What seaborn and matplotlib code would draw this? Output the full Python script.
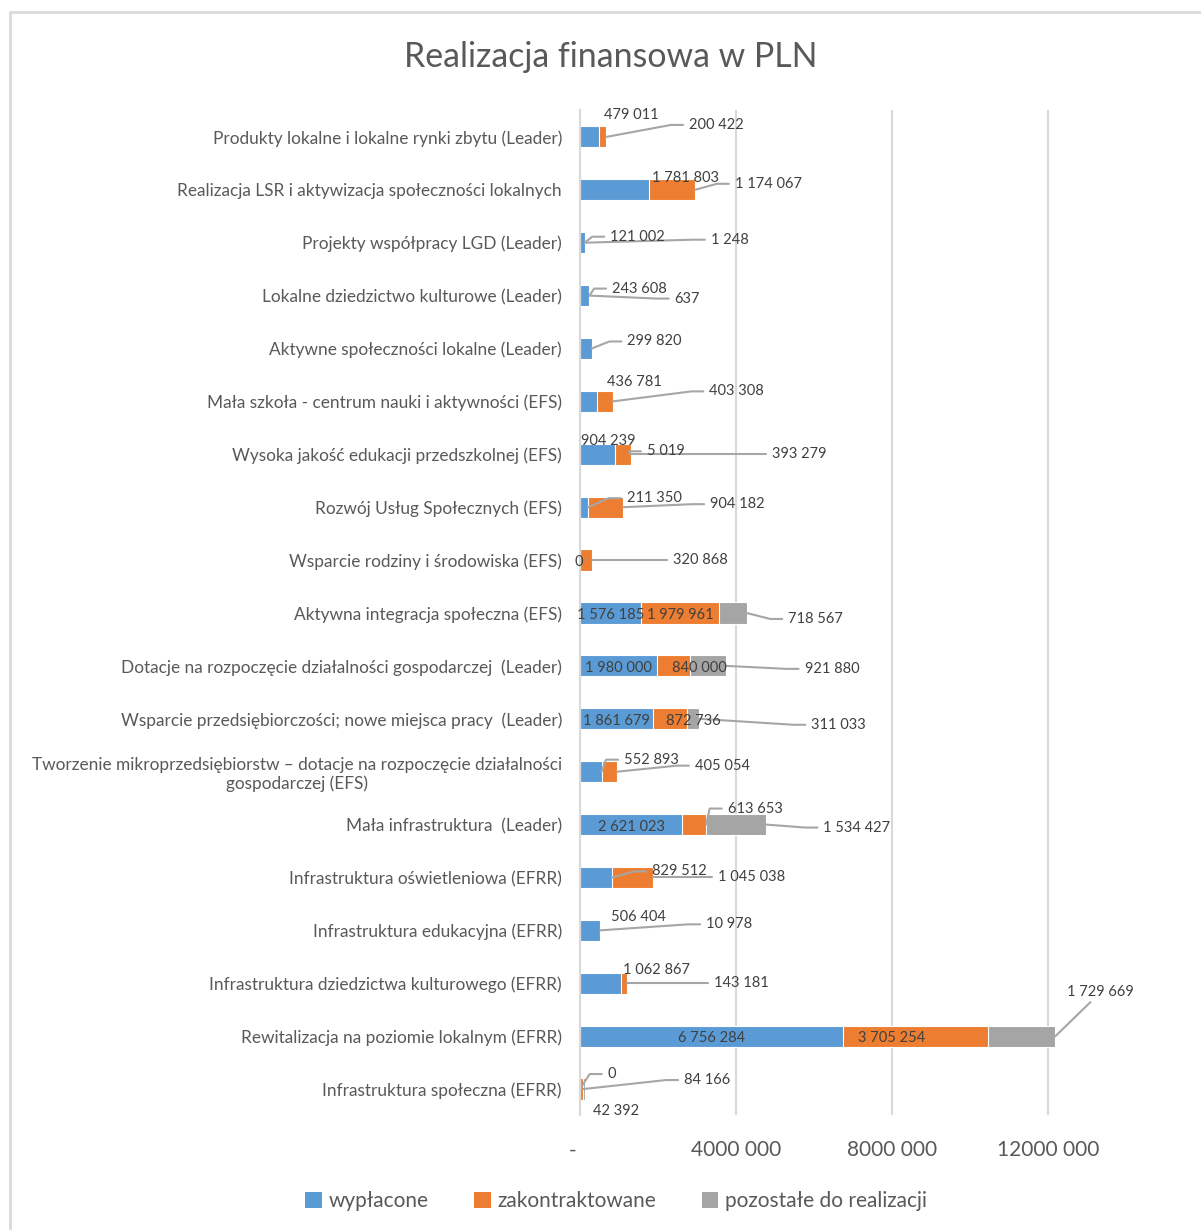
import numpy as np
import pandas as pd
import matplotlib
matplotlib.use("Agg")
import matplotlib.pyplot as plt
import matplotlib.transforms as mtransforms
from matplotlib.patches import Patch, Rectangle
import seaborn as sns

# --- data (PLN) ---
categories = [
    "Produkty lokalne i lokalne rynki zbytu (Leader)",
    "Realizacja LSR i aktywizacja społeczności lokalnych",
    "Projekty współpracy LGD (Leader)",
    "Lokalne dziedzictwo kulturowe (Leader)",
    "Aktywne społeczności lokalne (Leader)",
    "Mała szkoła - centrum nauki i aktywności (EFS)",
    "Wysoka jakość edukacji przedszkolnej (EFS)",
    "Rozwój Usług Społecznych (EFS)",
    "Wsparcie rodziny i środowiska (EFS)",
    "Aktywna integracja społeczna (EFS)",
    "Dotacje na rozpoczęcie działalności gospodarczej  (Leader)",
    "Wsparcie przedsiębiorczości; nowe miejsca pracy  (Leader)",
    "Tworzenie mikroprzedsiębiorstw – dotacje na rozpoczęcie działalności\ngospodarczej (EFS)",
    "Mała infrastruktura  (Leader)",
    "Infrastruktura oświetleniowa (EFRR)",
    "Infrastruktura edukacyjna (EFRR)",
    "Infrastruktura dziedzictwa kulturowego (EFRR)",
    "Rewitalizacja na poziomie lokalnym (EFRR)",
    "Infrastruktura społeczna (EFRR)",
]
wyplacone = [479011, 1781803, 121002, 243608, 299820, 436781, 904239, 211350, 0,
             1576185, 1980000, 1861679, 552893, 2621023, 829512, 506404, 1062867,
             6756284, 0]
zakontraktowane = [200422, 1174067, 1248, 637, np.nan, 403308, 393279, 904182, 320868,
                   1979961, 840000, 872736, 405054, 613653, 1045038, 10978, 143181,
                   3705254, 84166]
pozostale = [np.nan, np.nan, np.nan, np.nan, np.nan, np.nan, 5019, np.nan, np.nan,
             718567, 921880, 311033, np.nan, 1534427, np.nan, np.nan, np.nan,
             1729669, 42392]
series_names = ["wypłacone", "zakontraktowane", "pozostałe do realizacji"]
xtick_vals = [0, 4000000, 8000000, 12000000]
xtick_labels = ["-", "4000 000", "8000 000", "12000 000"]

# label placement like the Excel callouts: "in" = centred in segment,
# (dx, dy) = pixel offset of label centre from the segment end
label_pos = [
    [(33, 24), (110, 14), None],
    [(36, 14), (73, 8), None],
    [(53, 8), (145, 5), None],
    [(50, 9), (98, -1), None],
    [(63, 9), None, None],
    [(37, 21), (124, 12), None],
    [(-7, 15), (169, 2), (35, 5)],
    [(66, 11), (114, 5), None],
    [(-1, 0), (108, 2), None],
    ["in", "in", (69, -4)],
    ["in", (9, 0), (106, -1)],
    ["in", (7, 0), (140, -4)],
    [(50, 14), (105, 8), None],
    ["in", (49, 18), (91, -1)],
    [(67, 8), (98, 2), None],
    [(39, 15), (129, 8), None],
    [(35, 15), (114, 2), None],
    ["in", (-96, 0), (45, 46)],
    [(32, 17), (124, 11), (31, -20)],
]

colors = ["#5B9BD5", "#ED7D31", "#A5A5A5"]
text_col = "#595959"
lbl_col = "#404040"
grid_col = "#D9D9D9"

df = pd.DataFrame({"kategoria": categories,
                   "w": wyplacone, "z": zakontraktowane, "p": pozostale})
vals = df[["w", "z", "p"]].fillna(0).to_numpy()
cum = vals.cumsum(axis=1)

sns.set_theme(style="white")
plt.rcParams["font.family"] = ["Lato", "DejaVu Sans"]

fig = plt.figure(figsize=(12.01, 12.30), dpi=100)
ax = fig.add_axes([0.4829, 0.0931, 0.4384, 0.8171])

# stacked bars: draw cumulative totals from the largest down
for j in [2, 1, 0]:
    sns.barplot(x=cum[:, j], y=df["kategoria"], orient="h", color=colors[j],
                saturation=1, width=0.4, errorbar=None, ax=ax,
                edgecolor="white", linewidth=0.8)

ax.set_xlim(0, 13500000)
ax.set_ylim(len(categories) - 0.5, -0.5)
ax.set_xticks(xtick_vals)
ax.set_xticklabels(xtick_labels, fontsize=15, color=text_col)
ax.tick_params(axis="x", length=0, pad=18)
ax.tick_params(axis="y", length=0, pad=13, labelsize=12.4, labelcolor=text_col)
# the "-" for zero sits a little left of the axis, as in Excel
zero_lbl = ax.get_xticklabels()[0]
zero_lbl.set_transform(zero_lbl.get_transform() +
                       mtransforms.ScaledTranslation(-7 / 100, 0, fig.dpi_scale_trans))
for t in ax.get_yticklabels():
    t.set_multialignment("center")
ax.set_xlabel("")
ax.set_ylabel("")
ax.xaxis.grid(True, color=grid_col, lw=1.5)
ax.set_axisbelow(True)
for s in ["top", "right", "bottom"]:
    ax.spines[s].set_visible(False)
ax.spines["left"].set_color(grid_col)
ax.spines["left"].set_linewidth(1.5)

# data labels
callouts = []
raw = df[["w", "z", "p"]].to_numpy()
for i in range(len(categories)):
    for j in range(3):
        v = raw[i, j]
        pos = label_pos[i][j]
        if pos is None or np.isnan(v):
            continue
        txt = f"{v:,.0f}".replace(",", " ")
        end = cum[i, j]
        if pos == "in":
            ax.annotate(txt, xy=(end - v / 2, i), xytext=(0, -2),
                        textcoords="offset pixels", ha="center", va="center",
                        fontsize=10.5, color=lbl_col)
        else:
            ann = ax.annotate(txt, xy=(end, i), xytext=(pos[0], pos[1] - 2),
                              textcoords="offset pixels", ha="center",
                              va="center", fontsize=10.5, color=lbl_col,
                              annotation_clip=False)
            callouts.append((ann, end, i, pos))

# leader lines for callouts that sit away from their segment
fig.canvas.draw()
renderer = fig.canvas.get_renderer()
inv = ax.transData.inverted()
for ann, end, i, pos in callouts:
    bb = ann.get_window_extent(renderer)
    ax_pt = ax.transData.transform((end, i))
    if pos[1] > 30:
        # label well above the bar: line runs up to its lower edge
        pts = np.array([ax_pt, (bb.x0 + bb.width * 0.35, bb.y0 - 3)])
    elif bb.x0 - ax_pt[0] > 12:
        yc = (bb.y0 + bb.y1) / 2
        pts = np.array([ax_pt, (bb.x0 - 18, yc), (bb.x0 - 6, yc)])
    else:
        continue
    d = inv.transform(pts)
    ax.plot(d[:, 0], d[:, 1], color="#A6A6A6", lw=1.5, clip_on=False,
            zorder=1.5)

fig.text(611 / 1201, 1 - 57 / 1230, "Realizacja finansowa w PLN",
         ha="center", va="center", fontsize=24.4, color=text_col)

handles = [Patch(facecolor=c, edgecolor="none") for c in colors]
fig.legend(handles, series_names, loc="center", ncol=3, frameon=False,
           bbox_to_anchor=(616 / 1201, 1 - 1201 / 1230), fontsize=15,
           labelcolor=text_col, handlelength=0.8, handleheight=0.8,
           handletextpad=0.3, columnspacing=2.2)

fig.patches.append(Rectangle((10 / 1201, -0.01), 1.0, 1.01 - 12 / 1230,
                             transform=fig.transFigure, fill=False,
                             edgecolor=grid_col, lw=2))

fig.savefig("out.png", dpi=100)
